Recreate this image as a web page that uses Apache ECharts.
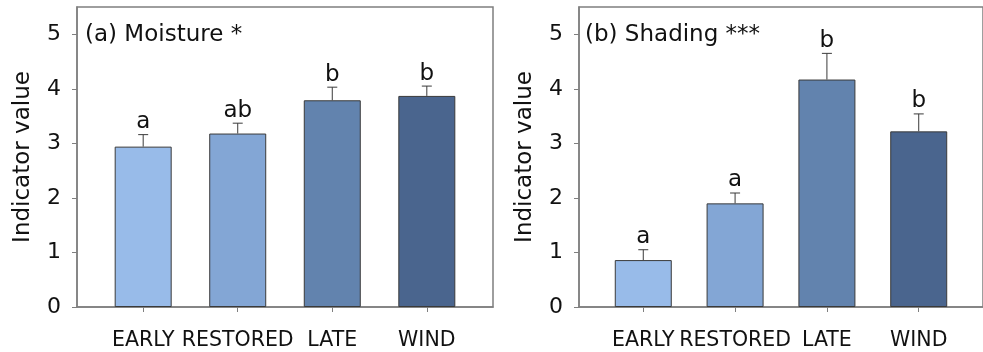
<!DOCTYPE html>
<html><head><meta charset="utf-8">
<script src="https://cdn.jsdelivr.net/npm/echarts@6/dist/echarts.min.js"></script>
<style>html,body{margin:0;padding:0;background:#fff}#c{width:983px;height:352px}</style>
</head><body><div id="c"></div>
<script>
const categories = ['EARLY', 'RESTORED', 'LATE', 'WIND'];
const barColors = ['#98bbe9', '#83a6d5', '#6283ae', '#4a658e'];
const moistureMean = [2.94, 3.18, 3.79, 3.87];
const moistureSE = [0.22, 0.19, 0.24, 0.18];
const moistureLetters = ['a', 'ab', 'b', 'b'];
const shadingMean = [0.86, 1.90, 4.17, 3.22];
const shadingSE = [0.19, 0.19, 0.48, 0.32];
const shadingLetters = ['a', 'a', 'b', 'b'];
const yTicks = [0, 1, 2, 3, 4, 5];
const panelTitles = ['(a) Moisture *', '(b) Shading ***'];
const yTitle = 'Indicator value';

const FONT = 'DejaVu Sans';
const AXIS = '#7f7f7f';
const idx = categories.map((_, i) => i);

function xAxisCfg(g) {
  return {
    type: 'value', gridIndex: g, min: -0.7, max: 3.7,
    axisLine: { show: true, onZero: false, lineStyle: { color: AXIS, width: 1.5 } },
    axisTick: { show: true, inside: false, length: 5, customValues: idx, lineStyle: { color: AXIS, width: 1 } },
    axisLabel: { customValues: idx, formatter: v => categories[Math.round(v)] || '', margin: 23,
      fontFamily: FONT, fontSize: 20.5, color: '#111' },
    splitLine: { show: false }
  };
}
function yAxisCfg(g) {
  return {
    type: 'value', gridIndex: g, min: 0, max: 5.5,
    name: yTitle, nameLocation: 'middle', nameGap: 42,
    nameTextStyle: { fontFamily: FONT, fontSize: 23, color: '#111' },
    axisLine: { show: true, onZero: false, lineStyle: { color: AXIS, width: 1.5 } },
    axisTick: { show: true, inside: false, length: 5, customValues: yTicks, lineStyle: { color: AXIS, width: 1 } },
    axisLabel: { customValues: yTicks, margin: 16, fontFamily: FONT, fontSize: 22, color: '#111' },
    splitLine: { show: false }
  };
}
function barSeries(g, mean) {
  return {
    type: 'bar', xAxisIndex: g, yAxisIndex: g, barWidth: 57,
    data: mean.map((v, i) => ({ value: [i, v], itemStyle: { color: barColors[i] } })),
    itemStyle: { borderColor: '#3a3a3a', borderWidth: 1 },
    z: 3
  };
}
function errSeries(g, mean, se, letters) {
  return {
    type: 'custom', xAxisIndex: g, yAxisIndex: g, z: 2,
    data: mean.map((v, i) => [i, v, v + se[i]]),
    renderItem: function (params, api) {
      const i = api.value(0);
      const b = api.coord([i, api.value(1)]);
      const t = api.coord([i, api.value(2)]);
      const cap = 5;
      return {
        type: 'group',
        children: [
          { type: 'line', shape: { x1: b[0], y1: b[1], x2: t[0], y2: t[1] }, style: { stroke: '#3a3a3a', lineWidth: 1 } },
          { type: 'line', shape: { x1: t[0] - cap, y1: t[1], x2: t[0] + cap, y2: t[1] }, style: { stroke: '#3a3a3a', lineWidth: 1 } },
          { type: 'text', x: t[0], y: t[1] - 1, style: { text: letters[params.dataIndex], fontFamily: FONT, fontSize: 23,
            fill: '#111', align: 'center', verticalAlign: 'bottom' } }
        ]
      };
    }
  };
}

const chart = echarts.init(document.getElementById('c'), null, { renderer: 'canvas' });
chart.setOption({
  animation: false,
  backgroundColor: '#fff',
  title: [
    { text: panelTitles[0], left: 80, top: 19, textStyle: { fontFamily: FONT, fontSize: 23, fontWeight: 'normal', color: '#111' } },
    { text: panelTitles[1], left: 580, top: 19, textStyle: { fontFamily: FONT, fontSize: 23, fontWeight: 'normal', color: '#111' } }
  ],
  grid: [
    { left: 77, top: 7, width: 416, height: 300, show: true, borderColor: AXIS, borderWidth: 1.5, backgroundColor: 'transparent' },
    { left: 579, top: 7, width: 416, height: 300, show: true, borderColor: AXIS, borderWidth: 1.5, backgroundColor: 'transparent' }
  ],
  xAxis: [xAxisCfg(0), xAxisCfg(1)],
  yAxis: [yAxisCfg(0), yAxisCfg(1)],
  series: [
    barSeries(0, moistureMean), errSeries(0, moistureMean, moistureSE, moistureLetters),
    barSeries(1, shadingMean), errSeries(1, shadingMean, shadingSE, shadingLetters)
  ]
});
</script></body></html>
